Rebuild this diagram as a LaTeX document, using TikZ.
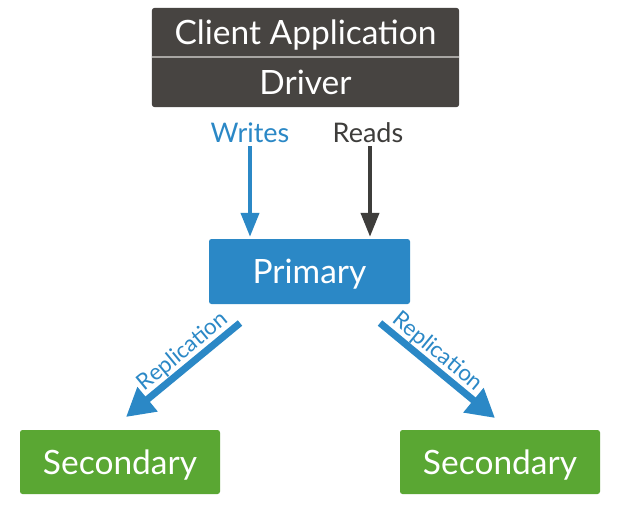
\documentclass[tikz,border=0pt]{standalone}
\usepackage{fontspec}
\setmainfont{Lato}
\usetikzlibrary{arrows.meta,backgrounds}
\definecolor{dark}{HTML}{474441}
\definecolor{mblue}{HTML}{2B88C6}
\definecolor{mgreen}{HTML}{5AA733}
\definecolor{divider}{HTML}{A8A6A3}
\definecolor{readc}{HTML}{3E3D3B}
\begin{document}
\begin{tikzpicture}[x=1pt,y=-1pt,
  boxtext/.style={text=white, inner sep=0pt, text height=24pt, text depth=0pt, font=\fontsize{33.5}{36}\selectfont},
  toplbl/.style={inner sep=0pt, font=\fontsize{27}{30}\selectfont},
  replbl/.style={inner sep=0.5pt, font=\fontsize{22.5}{24}\selectfont, text=mblue},
  warrow/.style={draw=mblue, line width=4pt, -{Triangle[width=18pt,length=24pt]}},
  rdarrow/.style={draw=readc, line width=4pt, -{Triangle[width=18pt,length=24pt]}},
  reparrow/.style={draw=mblue, line width=7pt, -{Triangle[width=30pt,length=28pt]}}]
\useasboundingbox (0,0) rectangle (626,528);
% top box
\node[boxtext, minimum width=307pt, minimum height=49pt] (client) at (305.5,32.5) {Client Application};
\node[boxtext, minimum width=307pt, minimum height=50pt] (driver) at (305.5,82) {Driver};
\begin{scope}[on background layer]
  \fill[white] (0,0) rectangle (626,528);
  \fill[dark, rounded corners=3pt] (client.north west) rectangle (driver.south east);
  \draw[divider, line width=1.5pt] (client.south west) -- (client.south east);
\end{scope}
% primary
\node[boxtext, fill=mblue, rounded corners=2.5pt, minimum width=201pt, minimum height=65pt] (primary) at (309.5,271.5) {Primary};
% secondaries
\node[boxtext, fill=mgreen, rounded corners=2.5pt, minimum width=200pt, minimum height=64pt] (sec1) at (120,462) {Secondary};
\node[boxtext, fill=mgreen, rounded corners=2.5pt, minimum width=200pt, minimum height=64pt] (sec2) at (500,462) {Secondary};
% labels
\node[toplbl, text=mblue] (writes) at (250,133) {Writes};
\node[toplbl, text=readc] (reads) at (368,133) {Reads};
\draw[warrow] ([yshift=-3pt]writes.south) -- ([yshift=2pt]writes.south |- primary.north);
\draw[rdarrow] ([xshift=2pt,yshift=-3pt]reads.south) -- ([xshift=2pt,yshift=2pt]reads.south |- primary.north);
% replication
\coordinate (l1) at (240,323);
\coordinate (l2) at (126,417);
\coordinate (r1) at (380,323);
\coordinate (r2) at (495,418);
\draw[reparrow] (l1) -- node[replbl, sloped, above, pos=0.42] (replL) {Replication} (l2);
\draw[reparrow] (r1) -- node[replbl, sloped, above, pos=0.42] (replR) {Replication} (r2);
\end{tikzpicture}
\end{document}
